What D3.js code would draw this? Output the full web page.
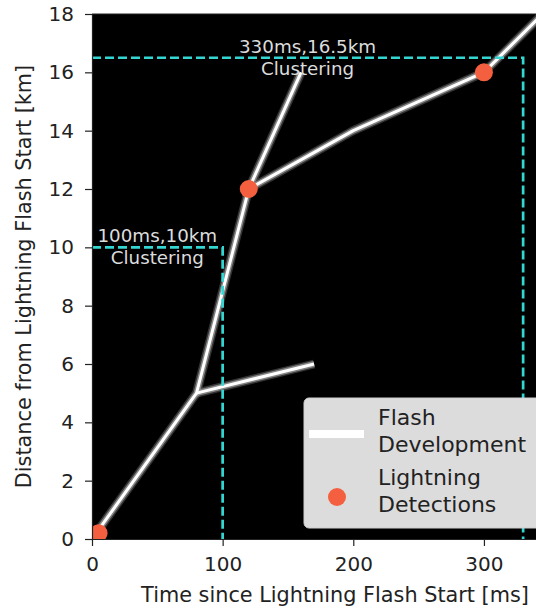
<!DOCTYPE html>
<html>
<head>
<meta charset="utf-8">
<script src="https://cdn.jsdelivr.net/npm/d3@7"></script>
<style>
  body { margin: 0; background: #fff; }
  text { font-family: "DejaVu Sans", sans-serif; }
</style>
</head>
<body>
<script>
// flash development, one array per branch (time ms, distance km)
const trunk = [[0, 0], [80, 5], [120, 12], [200, 14], [300, 16], [345, 18]];
const lowBranch = [[80, 5], [170, 6]];
const highBranch = [[120, 12], [160, 16]];
const branches = [trunk, lowBranch, highBranch];

// lightning detections
const detTime = [5, 120, 300];
const detDist = [0.2, 12, 16];

// clustering windows
const clusterTime = [100, 330];
const clusterDist = [10, 16.5];
const clusterLabels = ['100ms,10km', '330ms,16.5km'];

const xTicks = [0, 100, 200, 300];
const yTicks = [0, 2, 4, 6, 8, 10, 12, 14, 16, 18];

const W = 536, H = 608;
const margin = {left: 92, right: 578, top: 14, bottom: 539};

const svg = d3.select('body').append('svg')
  .attr('width', W)
  .attr('height', H);

const x = d3.scaleLinear().domain([0, 372]).range([margin.left, margin.right]);
const y = d3.scaleLinear().domain([0, 18]).range([margin.bottom, margin.top]);

svg.append('defs').append('clipPath')
  .attr('id', 'plotclip')
  .append('rect')
  .attr('x', margin.left).attr('y', margin.top)
  .attr('width', margin.right - margin.left).attr('height', margin.bottom - margin.top);

// black plot area
svg.append('rect')
  .attr('x', margin.left).attr('y', margin.top)
  .attr('width', margin.right - margin.left).attr('height', margin.bottom - margin.top)
  .attr('fill', '#000');

const plot = svg.append('g').attr('clip-path', 'url(#plotclip)');

// flash development lines with glow
const line = d3.line().x(function(d) { return x(d[0]); }).y(function(d) { return y(d[1]); });
const glow = [
  {w: 9, c: '#555', o: 0.6},
  {w: 6, c: '#999', o: 0.8},
  {w: 3, c: '#fff', o: 1}
];
glow.forEach(function(g) {
  plot.selectAll(null)
    .data(branches)
    .enter()
    .append('path')
    .attr('d', line)
    .attr('fill', 'none')
    .attr('stroke', g.c)
    .attr('stroke-opacity', g.o)
    .attr('stroke-width', g.w)
    .attr('stroke-linejoin', 'round')
    .attr('stroke-linecap', 'butt');
});

// detections
const red = '#f4603f';
plot.selectAll('circle.det')
  .data(detTime)
  .enter()
  .append('circle')
  .attr('class', 'det')
  .attr('cx', function(d) { return x(d); })
  .attr('cy', function(d, i) { return y(detDist[i]); })
  .attr('r', 9)
  .attr('fill', red);

// clustering boxes (dashed), drawn over the flash
const cyan = '#34d6d2';
clusterTime.forEach(function(t, i) {
  const d = clusterDist[i];
  plot.append('path')
    .attr('d', d3.line()([[x(0), y(d)], [x(t), y(d)], [x(t), y(0)]]))
    .attr('fill', 'none')
    .attr('stroke', cyan)
    .attr('stroke-width', 2.7)
    .attr('stroke-dasharray', '9,4');

  plot.append('text')
    .attr('x', x(t / 2))
    .attr('y', y(d) - 5)
    .attr('text-anchor', 'middle')
    .style('font-size', '18.3px')
    .attr('fill', '#dcdcdc')
    .text(clusterLabels[i]);

  plot.append('text')
    .attr('x', x(t / 2))
    .attr('y', y(d) + 17)
    .attr('text-anchor', 'middle')
    .style('font-size', '18.3px')
    .attr('fill', '#dcdcdc')
    .text('Clustering');
});

// axes
const xAxis = svg.append('g')
  .attr('transform', `translate(0,${margin.bottom})`)
  .call(d3.axisBottom(x).tickValues(xTicks).tickSize(7).tickSizeOuter(0).tickPadding(11));
const yAxis = svg.append('g')
  .attr('transform', `translate(${margin.left},0)`)
  .call(d3.axisLeft(y).tickValues(yTicks).tickSize(7).tickSizeOuter(0).tickPadding(11));

[xAxis, yAxis].forEach(function(a) {
  a.selectAll('text').style('font-size', '20px').attr('fill', '#222')
    .style('font-family', '"DejaVu Sans", sans-serif');
  a.selectAll('line').attr('stroke', '#222').attr('stroke-width', 1.2);
  a.select('.domain').attr('stroke', '#222').attr('stroke-width', 1.2);
});

// top spine
svg.append('line')
  .attr('x1', margin.left).attr('x2', margin.right)
  .attr('y1', margin.top).attr('y2', margin.top)
  .attr('stroke', '#222').attr('stroke-width', 1.2);

// axis labels
svg.append('text')
  .attr('x', (margin.left + margin.right) / 2)
  .attr('y', 602)
  .attr('text-anchor', 'middle')
  .style('font-size', '20.8px')
  .attr('fill', '#222')
  .text('Time since Lightning Flash Start [ms]');

svg.append('text')
  .attr('transform', `translate(31,${(margin.top + margin.bottom) / 2})rotate(-90)`)
  .attr('text-anchor', 'middle')
  .style('font-size', '20.8px')
  .attr('fill', '#222')
  .text('Distance from Lightning Flash Start [km]');

// legend
const legend = svg.append('g');
legend.append('rect')
  .attr('x', 304).attr('y', 398)
  .attr('width', 270).attr('height', 130)
  .attr('rx', 5)
  .attr('fill', '#dcdcdc')
  .attr('stroke', '#cfcfcf');

legend.append('line')
  .attr('x1', 309).attr('x2', 364)
  .attr('y1', 434).attr('y2', 434)
  .attr('stroke', '#fff')
  .attr('stroke-width', 8);

legend.append('circle')
  .attr('cx', 337).attr('cy', 497)
  .attr('r', 9)
  .attr('fill', red);

const legendText = ['Flash', 'Development', 'Lightning', 'Detections'];
const legendY = [425, 452, 485, 512];
legend.selectAll('text')
  .data(legendText)
  .enter()
  .append('text')
  .attr('x', 378)
  .attr('y', function(d, i) { return legendY[i]; })
  .style('font-size', '22px')
  .attr('fill', '#222')
  .text(function(d) { return d; });
</script>
</body>
</html>
